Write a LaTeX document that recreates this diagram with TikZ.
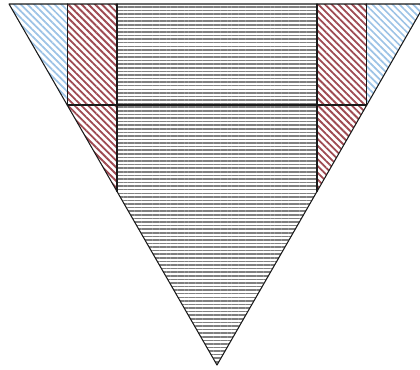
\documentclass[tikz,border=0pt]{standalone}
\usepackage{tikz}
\usetikzlibrary{patterns.meta}
\definecolor{stripeblue}{HTML}{9DC3E6}
\definecolor{stripered}{HTML}{9E4A52}
\definecolor{stripegray}{HTML}{7F7F7F}
\definecolor{edge}{HTML}{1A1A1A}
\tikzset{
  every picture/.style={line join=round, line cap=round},
  bluezone/.style={pattern={Lines[angle=-45,distance=3.4pt,line width=1.2pt]}, pattern color=stripeblue},
  redzone/.style={pattern={Lines[angle=-45,distance=3.4pt,line width=1.3pt]}, pattern color=stripered},
  grayzone/.style={pattern={Lines[angle=0,distance=2.55pt,line width=1.1pt]}, pattern color=stripegray},
  border/.style={draw=edge, line width=0.75pt},
}

\begin{document}
\begin{tikzpicture}[x=0.025cm,y=-0.025cm]
\useasboundingbox (0,0) rectangle (420,369);
% corners and cut points
\coordinate (tl) at (9,4);
\coordinate (tr) at (425,4);
\coordinate (apex) at (217,365);
\coordinate (ml) at (67.2,105);
\coordinate (mr) at (366.8,105);
\coordinate (lowl) at (117,191.4);
\coordinate (lowr) at (317,191.4);
% filled zones
\fill[bluezone] (tl)--(67.2,4)--(ml)--cycle;
\fill[bluezone] (366.8,4)--(tr)--(mr)--cycle;
\fill[redzone] (67.2,4)--(117,4)--(lowl)--(ml)--cycle;
\fill[redzone] (317,4)--(366.8,4)--(mr)--(lowr)--cycle;
\fill[grayzone] (117,4)--(317,4)--(lowr)--(apex)--(lowl)--cycle;
% lines
\draw[border] (ml)--(mr);
\draw[border] (67.2,4)--(ml);
\draw[border] (366.8,4)--(mr);
\draw[border] (117,4)--(lowl);
\draw[border] (317,4)--(lowr);
\draw[border] (tl)--(tr)--(apex)--cycle;
\end{tikzpicture}
\end{document}
